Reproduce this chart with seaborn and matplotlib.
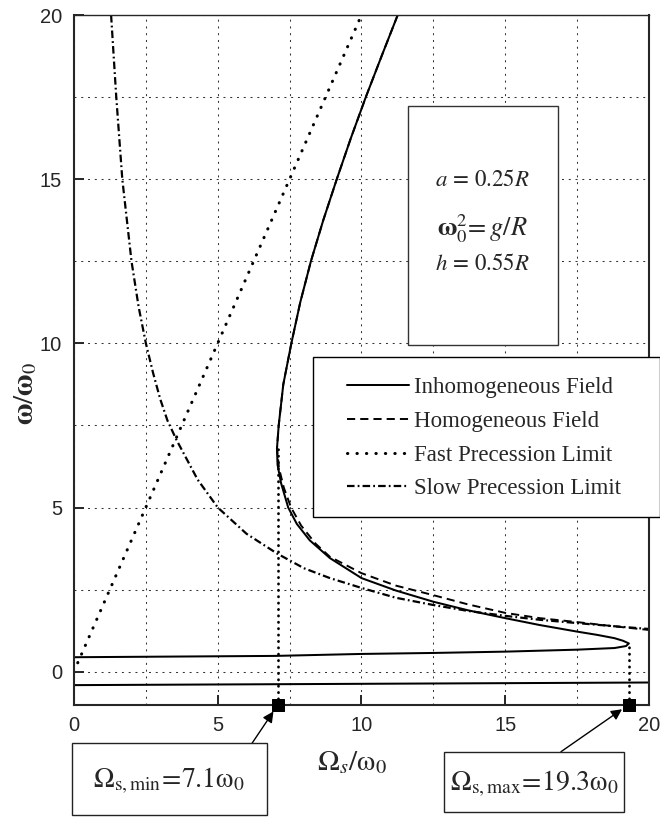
import numpy as np
import pandas as pd
import seaborn as sns
import matplotlib.pyplot as plt
from matplotlib.patches import Rectangle

# Curves (x = Omega_s/omega_0, y = omega/omega_0)
inhom_x = [11.26, 10.70, 10.15, 9.63, 9.14, 8.67, 8.24, 7.87, 7.56, 7.28, 7.12, 7.06, 7.08,
           7.20, 7.45, 7.75, 8.20, 8.90, 10.0, 11.2, 12.5, 13.7, 15.0, 16.2, 17.5, 18.2,
           18.8, 19.1, 19.3, 19.2, 18.8, 17.5, 15.0, 12.5, 10.0, 7.0, 0.0]
inhom_y = [20.0, 18.75, 17.5, 16.25, 15.0, 13.75, 12.5, 11.25, 10.0, 8.75, 7.5, 6.8, 6.3,
           5.75, 5.0, 4.5, 4.0, 3.46, 2.85, 2.47, 2.13, 1.87, 1.63, 1.42, 1.22, 1.12,
           1.02, 0.94, 0.86, 0.78, 0.72, 0.67, 0.61, 0.57, 0.54, 0.48, 0.44]
inhom_low_x = [0.0, 20.0]
inhom_low_y = [-0.41, -0.33]

hom_x = [11.26, 10.70, 10.15, 9.63, 9.14, 8.67, 8.24, 7.87, 7.56, 7.28, 7.12, 7.06, 7.13,
         7.30, 7.55, 7.90, 8.40, 8.90, 10.0, 11.2, 12.5, 13.7, 15.0, 16.2, 17.5, 18.7, 20.0]
hom_y = [20.0, 18.75, 17.5, 16.25, 15.0, 13.75, 12.5, 11.25, 10.0, 8.75, 7.5, 6.8, 6.2,
         5.6, 5.0, 4.45, 3.9, 3.5, 3.0, 2.62, 2.33, 2.05, 1.79, 1.63, 1.51, 1.39, 1.27]

fast_x = [0.13, 10.0]
fast_y = [0.27, 20.0]

slow_x = [1.29, 1.47, 1.68, 2.0, 2.25, 2.5, 2.75, 3.0, 3.25, 3.57, 4.3, 5.0, 6.0, 7.06, 8.0,
          8.9, 10.0, 11.2, 12.5, 13.7, 15.0, 16.2, 17.5, 18.7, 20.0]
slow_y = [20.0, 17.5, 15.0, 12.5, 11.1, 10.0, 9.1, 8.3, 7.65, 7.05, 5.85, 5.0, 4.2, 3.6, 3.15,
          2.85, 2.55, 2.25, 2.03, 1.85, 1.7, 1.58, 1.48, 1.39, 1.3]

# limits of Omega_s and the omega where they are reached
omega_s_lim = [7.1, 19.3]
omega_at_lim = [6.8, 0.87]

labels = ["Inhomogeneous Field", "Homogeneous Field", "Fast Precession Limit", "Slow Precession Limit"]
ticks = [0, 5, 10, 15, 20]
tick_labels = ["0", "5", "10", "15", "20"]
params_text = [r"$a\,=\,0.25R$", r"$\mathbf{\omega}_{0}^{2}\!=g/R$", r"$h\,=\,0.55R$"]

sns.set_style("ticks")
plt.rcParams["font.family"] = ["Liberation Serif", "DejaVu Serif"]
plt.rcParams["mathtext.fontset"] = "stix"

W, H = 660, 817
fig = plt.figure(figsize=(W / 100, H / 100), dpi=100)


def fx(px):
    return px / W


def fy(py):
    return 1 - py / H


ax = fig.add_axes([fx(74), fy(704.5), fx(649) - fx(74), fy(15) - fy(704.5)])

lw = 1.45
sns.lineplot(x=inhom_x, y=inhom_y, sort=False, estimator=None, color="black", lw=lw,
             label=labels[0], ax=ax)
sns.lineplot(x=hom_x, y=hom_y, sort=False, estimator=None, color="black", lw=1.4,
             linestyle=(0, (4.2, 2.6)), label=labels[1], ax=ax)
sns.lineplot(x=fast_x, y=fast_y, sort=False, estimator=None, color="black", lw=2.2,
             linestyle=(0, (0.1, 3.0)), dash_capstyle="round", label=labels[2], ax=ax)
sns.lineplot(x=slow_x, y=slow_y, sort=False, estimator=None, color="black", lw=1.6,
             linestyle=(0, (3.4, 1.4, 0.8, 1.4)), label=labels[3], ax=ax)
ax.plot(inhom_low_x, inhom_low_y, color="black", lw=lw)

# vertical dotted markers of the Omega_s limits
for xs, ys in zip(omega_s_lim, omega_at_lim):
    ax.plot([xs, xs], [-1, ys], color="black", lw=2.0, linestyle=(0, (0.1, 2.2)),
            dash_capstyle="round")
sns.scatterplot(x=omega_s_lim, y=[-1, -1], marker="s", s=80, color="black",
                edgecolor="black", clip_on=False, zorder=10, ax=ax)

ax.set_xlim(0, 20)
ax.set_ylim(-1, 20)
ax.set_xticks(ticks)
ax.set_xticklabels(tick_labels)
ax.set_yticks(ticks)
ax.set_yticklabels(tick_labels)
ax.set_xticks(np.arange(0, 20.1, 2.5), minor=True)
ax.set_yticks(np.arange(0, 20.1, 2.5), minor=True)
ax.tick_params(which="major", direction="in", length=7, width=1.4, labelsize=14.5, pad=8.5)
ax.tick_params(which="minor", length=0)
ax.grid(which="both", color="#333333", lw=0.75, linestyle=(0, (1.9, 4.6)))
for lab in ax.get_xticklabels() + ax.get_yticklabels():
    lab.set_fontfamily("Liberation Sans")
for side in ["left", "bottom", "right"]:
    ax.spines[side].set_linewidth(1.5)
ax.spines["top"].set_linewidth(1.0)
ax.set_xlabel("")
ax.set_ylabel("")

leg = ax.legend(loc="center left", bbox_to_anchor=(fx(347), fy(438.4)),
                bbox_transform=fig.transFigure, frameon=False, fontsize=16.5,
                handlelength=2.7, handletextpad=0.22, labelspacing=0.55, borderpad=0,
                borderaxespad=0)
leg.set_zorder(20)

# legend frame, running to the right edge of the picture
ax.add_patch(Rectangle((fx(313), fy(517.3)), fx(660) - fx(313), fy(357.3) - fy(517.3),
                       transform=fig.transFigure, fc="white", ec="black", lw=1.0,
                       clip_on=False, zorder=15))

# parameter box
ax.add_patch(Rectangle((fx(407.7), fy(345)), fx(558) - fx(407.7), fy(105.7) - fy(345),
                       transform=fig.transFigure, fc="white", ec="#333333", lw=1.0,
                       clip_on=False, zorder=15))
for txt, py, fs in zip(params_text, [181, 229, 264], [16.5, 19, 16.5]):
    ax.text(fx(482), fy(py), txt, ha="center", va="center", fontsize=fs, zorder=16,
            transform=fig.transFigure)

# axis labels
fig.text(fx(26), fy(394), r"$\mathbf{\omega}/\mathbf{\omega}_0$", rotation=90,
         ha="center", va="center", fontsize=21)
fig.text(fx(352), fy(763), r"$\Omega_{s}/\mathrm{\omega}_{0}$", ha="center",
         va="center", fontsize=21)

# annotation boxes with arrows to the limit markers
boxes = [(71.7, 743.3, 266.7, 815.0), (444.3, 751.7, 624.0, 811.7)]
box_text = [r"$\Omega_{\rm s,min}\!=\!7.1\mathrm{\omega}_0$",
            r"$\Omega_{\rm s,max}\!=\!19.3\mathrm{\omega}_0$"]
tails = [(252, 743.3), (561, 751.7)]
for (l, t, r, b), txt, (tx, ty), xs in zip(boxes, box_text, tails, omega_s_lim):
    fig.patches.append(Rectangle((fx(l), fy(b)), fx(r) - fx(l), fy(t) - fy(b),
                                 transform=fig.transFigure, fc="white", ec="#222222", lw=1.0))
    fig.text(fx((l + r) / 2), fy((t + b) / 2 + 2), txt, ha="center", va="center", fontsize=20)
    ax.annotate("", xy=(xs, -1), xycoords="data", xytext=(tx, H - ty),
                textcoords="figure pixels", annotation_clip=False,
                arrowprops=dict(arrowstyle="-|>", color="black", lw=1.0, shrinkA=0, shrinkB=6,
                                mutation_scale=16))

fig.savefig("out.png", dpi=100)
